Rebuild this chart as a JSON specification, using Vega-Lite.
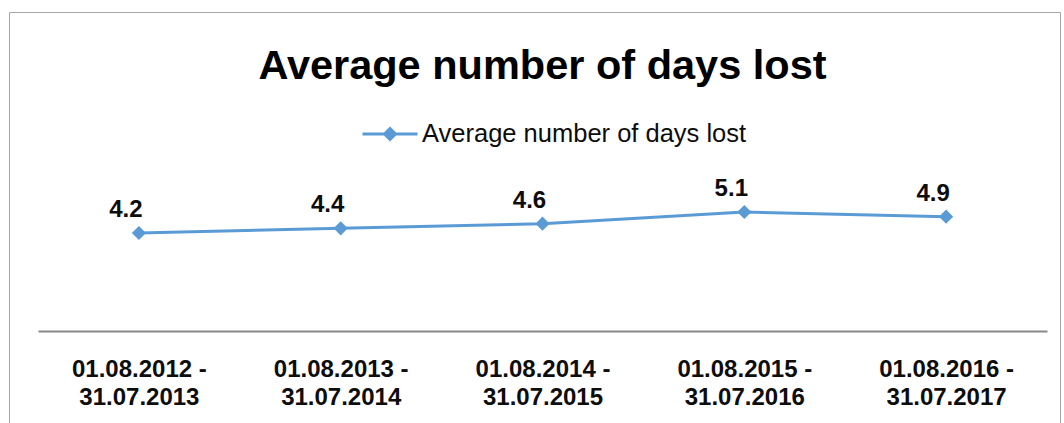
{
  "$schema": "https://vega.github.io/schema/vega-lite/v6.json",
  "width": 1051,
  "height": 411,
  "autosize": {"type": "none"},
  "padding": {"left": 9, "top": 12, "right": 4, "bottom": 0},
  "background": "white",
  "config": {"view": {"stroke": "#a6a6a6", "strokeWidth": 1}, "font": "Liberation Sans"},
  "title": {
    "text": "Average number of days lost",
    "fontSize": 41.5,
    "fontWeight": "bold",
    "font": "Liberation Sans",
    "color": "#000000",
    "anchor": "middle",
    "frame": "group",
    "baseline": "alphabetic",
    "offset": -108,
    "dx": 8
  },
  "data": {
    "values": [
      {"period": "01.08.2012 - 31.07.2013", "days": 4.2, "series": "Average number of days lost"},
      {"period": "01.08.2013 - 31.07.2014", "days": 4.4, "series": "Average number of days lost"},
      {"period": "01.08.2014 - 31.07.2015", "days": 4.6, "series": "Average number of days lost"},
      {"period": "01.08.2015 - 31.07.2016", "days": 5.1, "series": "Average number of days lost"},
      {"period": "01.08.2016 - 31.07.2017", "days": 4.9, "series": "Average number of days lost"}
    ]
  },
  "encoding": {
    "x": {
      "field": "period",
      "type": "nominal",
      "sort": null,
      "scale": {"range": [29, 1038]},
      "axis": {
        "title": null,
        "labelAngle": 0,
        "ticks": false,
        "grid": false,
        "domainColor": "#898989",
        "domainWidth": 2,
        "labelFontSize": 24,
        "labelFont": "Liberation Sans",
        "labelFontWeight": "bold",
        "labelColor": "#0d0d0d",
        "labelExpr": "[slice(datum.label, 0, 12), slice(datum.label, 13)]",
        "labelLineHeight": 28,
        "labelPadding": 26,
        "labelBaseline": "top",
        "labelOverlap": false,
        "labelLimit": 400,
        "offset": -92
      }
    },
    "y": {
      "field": "days",
      "type": "quantitative",
      "scale": {"domain": [0, 6], "range": [319, 179]},
      "axis": null
    }
  },
  "layer": [
    {
      "mark": {"type": "line", "strokeWidth": 3, "point": {"shape": "diamond", "filled": true, "size": 200}},
      "encoding": {
        "color": {
          "field": "series",
          "type": "nominal",
          "scale": {"range": ["#5B9BD5"]},
          "legend": {
            "title": null,
            "orient": "none",
            "legendX": 352,
            "legendY": 93,
            "padding": 0,
            "labelFontSize": 25.5,
            "labelFont": "Liberation Sans",
            "labelColor": "#0d0d0d",
            "labelOffset": 3,
            "labelLimit": 0,
            "symbolType": "M-1,0L1,0M0,-0.2L0.2,0L0,0.2L-0.2,0Z",
            "symbolSize": 3025,
            "symbolStrokeWidth": 3,
            "symbolFillColor": "#5B9BD5",
            "symbolStrokeColor": "#5B9BD5"
          }
        }
      }
    },
    {
      "mark": {
        "type": "text",
        "font": "Liberation Sans",
        "fontWeight": "bold",
        "fontSize": 24,
        "color": "#0d0d0d",
        "baseline": "alphabetic",
        "dx": -13,
        "dy": -16
      },
      "encoding": {"text": {"field": "days", "type": "quantitative", "format": ".1f"}}
    }
  ]
}
